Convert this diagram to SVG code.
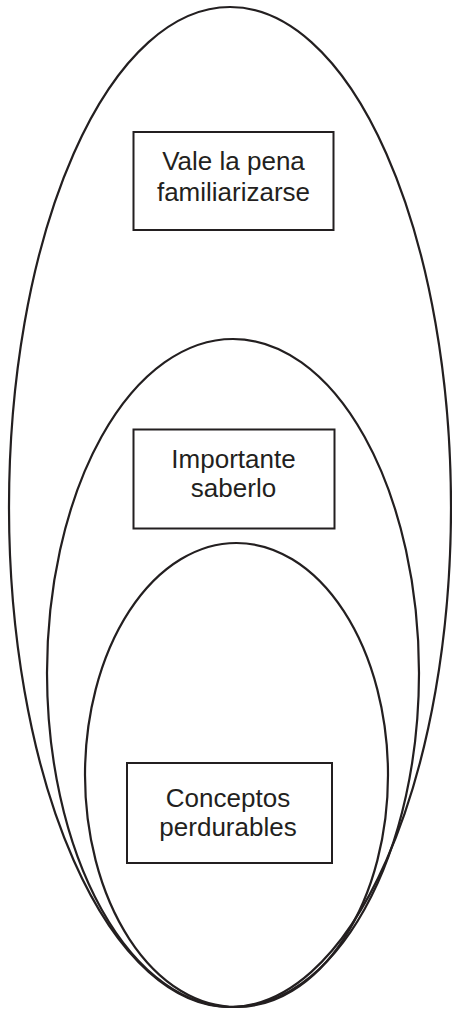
<svg xmlns="http://www.w3.org/2000/svg" width="452" height="1010" viewBox="0 0 452 1010">
<style>
.sh{fill:none;stroke:#231f20;stroke-width:2.2}
.bx{fill:#fff;stroke:#231f20;stroke-width:2}
.t{font-family:"Liberation Sans",Arial,Helvetica,sans-serif;font-size:26px;fill:#231f20;text-anchor:middle}
</style>
<rect width="452" height="1010" fill="#fff"/>
<g id="outer"><ellipse class="sh" cx="230" cy="507" rx="221" ry="500"/></g>
<g id="middle"><ellipse class="sh" cx="233" cy="673" rx="186" ry="334"/></g>
<g id="inner"><ellipse class="sh" cx="236.5" cy="775" rx="151.5" ry="232"/></g>
<g id="connectors"></g>
<g id="n1"><rect class="bx" x="133.5" y="132" width="200" height="98"/>
<text class="t" x="233.5" y="170">Vale la pena</text>
<text class="t" x="233.5" y="201">familiarizarse</text></g>
<g id="n2"><rect class="bx" x="133.5" y="429.5" width="201" height="99"/>
<text class="t" x="233.5" y="468">Importante</text>
<text class="t" x="233.5" y="497">saberlo</text></g>
<g id="n3"><rect class="bx" x="127" y="763" width="205" height="100"/>
<text class="t" x="228" y="807">Conceptos</text>
<text class="t" x="228" y="836">perdurables</text></g>
</svg>
